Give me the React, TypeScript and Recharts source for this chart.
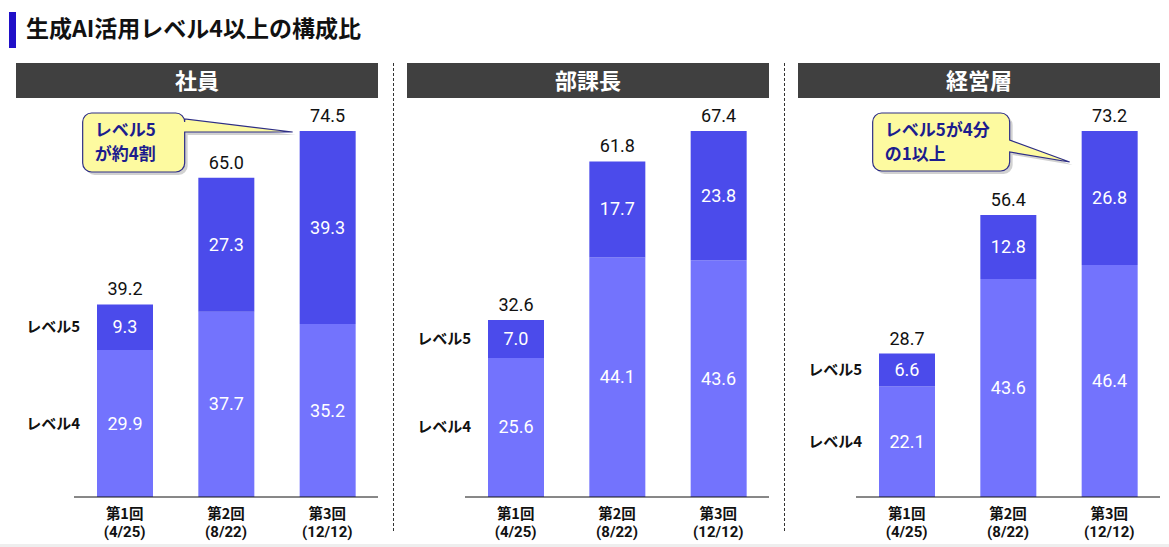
import React from 'react';
import { BarChart, Bar, XAxis, YAxis, LabelList } from 'recharts';

// ---------- data ----------
const TITLE = '生成AI活用レベル4以上の構成比';
const PANEL_TITLES = ['社員', '部課長', '経営層'];
const ROUNDS = ['第1回', '第2回', '第3回'];
const DATES = ['(4/25)', '(8/22)', '(12/12)'];
const SERIES_NAMES = ['レベル4', 'レベル5'];

const STAFF_L4 = [29.9, 37.7, 35.2];
const STAFF_L5 = [9.3, 27.3, 39.3];
const MANAGER_L4 = [25.6, 44.1, 43.6];
const MANAGER_L5 = [7.0, 17.7, 23.8];
const EXEC_L4 = [22.1, 43.6, 46.4];
const EXEC_L5 = [6.6, 12.8, 26.8];

const CALLOUT_TEXTS: (string[] | null)[] = [
  ['レベル5', 'が約4割'],
  null,
  ['レベル5が4分', 'の1以上'],
];

// ---------- styles ----------
const COLOR_L4 = '#7373fd';
const COLOR_L5 = '#4b4beb';
const HEADER_FILL = '#404040';
const TITLE_BAR = '#2010c8';
const CALLOUT_FILL = '#fdfaa0';
const CALLOUT_STROKE = '#2e2e86';
const CALLOUT_TEXT = '#1c1c8e';
const JP = "'Noto Sans CJK JP', sans-serif";
const NUM = "Roboto, 'Noto Sans CJK JP', sans-serif";

const W = 1169;
const H = 547;
const PANEL_STEP = 391;
const CHART_TOP = 100;
const CHART_W = 390;
const CHART_H = 447;
const MARGIN = { top: 31, right: 12, left: 74, bottom: 0 };

// callout geometry relative to the top-left corner of the 3rd bar's top segment
const CALLOUT_GEOM = [
  { l: -217, r: -115, t: -18, b: 41, p1: 6, p2: 19, tipX: -7, tipY: 1 },
  null,
  { l: -209, r: -72, t: -18, b: 40, p1: 27, p2: 39, tipX: -12, tipY: 31 },
];

type Row = { round: string; l4: number; l5: number; total: number };

function buildRows(l4: number[], l5: number[]): Row[] {
  return ROUNDS.map((r, i) => ({
    round: r,
    l4: l4[i],
    l5: l5[i],
    total: Math.round((l4[i] + l5[i]) * 10) / 10,
  }));
}

const PANELS: Row[][] = [
  buildRows(STAFF_L4, STAFF_L5),
  buildRows(MANAGER_L4, MANAGER_L5),
  buildRows(EXEC_L4, EXEC_L5),
];

function calloutPath(g: any, x: number, y: number) {
  const L = x + g.l, R = x + g.r, T = y + g.t, B = y + g.b;
  const r = 9;
  const tx = x + g.tipX, ty = y + g.tipY;
  return [
    `M${L + r},${T}`,
    `L${R - r},${T}`,
    `A${r},${r} 0 0 1 ${R},${T + r}`,
    `L${R},${T + g.p1}`,
    `L${tx},${ty}`,
    `L${R},${T + g.p2}`,
    `L${R},${B - r}`,
    `A${r},${r} 0 0 1 ${R - r},${B}`,
    `L${L + r},${B}`,
    `A${r},${r} 0 0 1 ${L},${B - r}`,
    `L${L},${T + r}`,
    `A${r},${r} 0 0 1 ${L + r},${T}`,
    'Z',
  ].join(' ');
}

function makeSegmentLabel(seriesName: string, rows: Row[], isTop: boolean, panelIdx: number) {
  return (props: any) => {
    const { x, y, width, height, value, index } = props;
    const cx = x + width / 2;
    const cy = y + height / 2;
    const els: React.ReactNode[] = [];
    els.push(
      <text key="v" x={cx} y={cy + 6} textAnchor="middle" fill="#ffffff" fontSize={18} fontFamily={NUM}>
        {Number(value).toFixed(1)}
      </text>
    );
    if (index === 0) {
      els.push(
        <text key="n" x={x - 17} y={cy + 5} textAnchor="end" fill="#111" fontSize={15} fontWeight={700} fontFamily={JP}>
          {seriesName}
        </text>
      );
    }
    if (isTop) {
      els.push(
        <text key="t" x={cx} y={y - 9} textAnchor="middle" fill="#111" fontSize={18} fontFamily={NUM}>
          {rows[index].total.toFixed(1)}
        </text>
      );
      const g = CALLOUT_GEOM[panelIdx];
      const texts = CALLOUT_TEXTS[panelIdx];
      if (index === rows.length - 1 && g && texts) {
        const d = calloutPath(g, x, y);
        els.push(
          <g key="c">
            <path d={d} fill="#000" opacity={0.18} transform="translate(3,3)" />
            <path d={d} fill={CALLOUT_FILL} stroke={CALLOUT_STROKE} strokeWidth={1.2} />
            {texts.map((t, i) => (
              <text key={i} x={x + g.l + 12} y={y + g.t + 23 + i * 24} fill={CALLOUT_TEXT} fontSize={17} fontWeight={700} fontFamily={JP}>
                {t}
              </text>
            ))}
          </g>
        );
      }
    }
    return <g>{els}</g>;
  };
}

const RoundTick = (props: any) => {
  const { x, y, payload, index } = props;
  const i = typeof index === 'number' ? index : ROUNDS.indexOf(payload.value);
  return (
    <g>
      <text x={x} y={y + 14} textAnchor="middle" fill="#111" fontSize={14.5} fontWeight={700} fontFamily={JP}>
        {payload.value}
      </text>
      <text x={x} y={y + 32} textAnchor="middle" fill="#111" fontSize={15} fontWeight={700} fontFamily={NUM}>
        {DATES[i]}
      </text>
    </g>
  );
};

function Panel({ rows, idx }: { rows: Row[]; idx: number }) {
  const max = Math.max(...rows.map((r) => r.total));
  return (
    <div style={{ position: 'absolute', left: idx * PANEL_STEP, top: CHART_TOP }}>
      <BarChart width={CHART_W} height={CHART_H} data={rows} margin={MARGIN} barSize={56}>
        <XAxis
          dataKey="round"
          height={50}
          tickLine={false}
          axisLine={{ stroke: '#111', strokeWidth: 1 }}
          tick={<RoundTick />}
          interval={0}
        />
        <YAxis hide domain={[0, max]} allowDataOverflow type="number" />
        <Bar dataKey="l4" stackId="a" fill={COLOR_L4} isAnimationActive={false}>
          <LabelList dataKey="l4" content={makeSegmentLabel(SERIES_NAMES[0], rows, false, idx)} />
        </Bar>
        <Bar dataKey="l5" stackId="a" fill={COLOR_L5} isAnimationActive={false}>
          <LabelList dataKey="l5" content={makeSegmentLabel(SERIES_NAMES[1], rows, true, idx)} />
        </Bar>
      </BarChart>
    </div>
  );
}

export default function App() {
  return (
    <div style={{ position: 'absolute', left: 0, top: 0, width: W, height: H, background: '#fff', overflow: 'hidden' }}>
      <svg width={W} height={H} style={{ position: 'absolute', left: 0, top: 0 }}>
        <rect x={9} y={12} width={7} height={36} fill={TITLE_BAR} />
        <text x={26} y={37} fontSize={23} fontWeight={700} fill="#111" fontFamily={JP}>
          {TITLE}
        </text>
        {PANEL_TITLES.map((t, i) => (
          <g key={t}>
            <rect x={16 + i * PANEL_STEP} y={63} width={362} height={35} fill={HEADER_FILL} />
            <text x={197 + i * PANEL_STEP} y={89} textAnchor="middle" fontSize={22} fontWeight={700} fill="#fff" fontFamily={JP}>
              {t}
            </text>
          </g>
        ))}
        {[393, 784].map((x) => (
          <line key={x} x1={x + 0.5} x2={x + 0.5} y1={63} y2={532} stroke="#333" strokeWidth={1} strokeDasharray="3 2" />
        ))}
        <rect x={0} y={544} width={W} height={3} fill="#eeeeee" />
      </svg>
      {PANELS.map((rows, i) => (
        <Panel key={i} rows={rows} idx={i} />
      ))}
    </div>
  );
}
